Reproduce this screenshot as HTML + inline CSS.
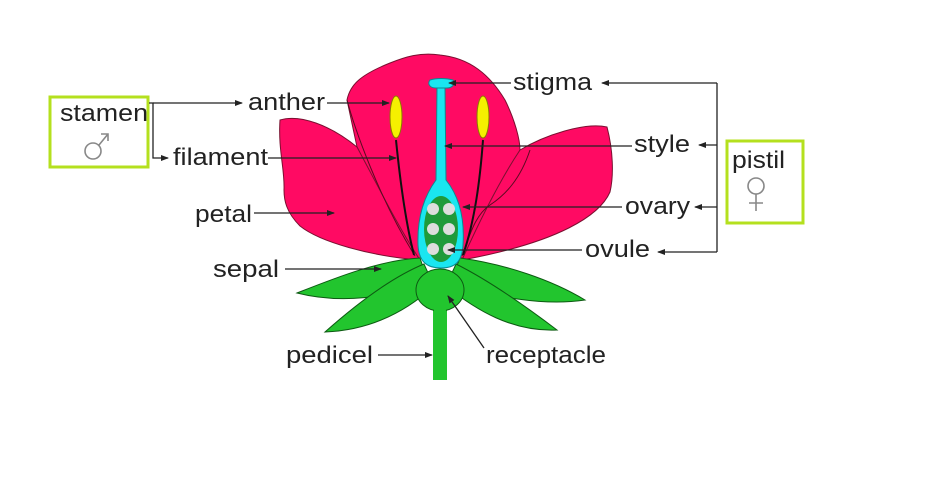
<!DOCTYPE html>
<html><head><meta charset="utf-8"><style>
body{margin:0;background:#fff;}
svg text{font-family:"Liberation Sans",Arial,sans-serif;fill:#222;}
</style></head><body>
<svg width="939" height="474" viewBox="0 0 939 474" xmlns="http://www.w3.org/2000/svg">
<defs>
<marker id="a" markerWidth="8" markerHeight="8" refX="7" refY="4" orient="auto" markerUnits="userSpaceOnUse"><path d="M0,1 L8,4 L0,7 Z" fill="#222"/></marker>
</defs>
<!-- petals -->
<path d="M347,100 C350,85 360,75 390,63 C405,57 420,52 440,55 C470,58 490,75 505,100 C515,120 520,140 520,150 L470,258 L412,258 L357,147 Z" fill="#ff0a63" stroke="#7a1030" stroke-width="1"/>
<path d="M280,120 C300,114 330,125 357,147 C380,190 400,230 420,260 C370,256 320,242 300,226 C286,212 284,200 284,190 C285,170 278,150 280,120 Z" fill="#ff0a63" stroke="#7a1030" stroke-width="1"/>
<path d="M607,127 C613,150 614,175 610,192 C600,215 560,242 462,260 C480,220 500,180 520,150 C545,135 585,122 607,127 Z" fill="#ff0a63" stroke="#7a1030" stroke-width="1"/>
<path d="M347,100 C355,130 380,200 415,256" fill="none" stroke="#5a0a20" stroke-width="1"/>
<path d="M530,150 C520,180 505,195 490,205 C475,215 470,235 462,256" fill="none" stroke="#5a0a20" stroke-width="1"/>
<!-- sepals -->
<path d="M420,258 C380,260 335,278 297,293 C340,304 390,298 428,282 Z" fill="#22c52e" stroke="#0d5a12" stroke-width="1"/>
<path d="M424,264 C390,278 352,308 325,332 C375,330 410,308 434,286 Z" fill="#22c52e" stroke="#0d5a12" stroke-width="1"/>
<path d="M460,258 C505,264 552,280 585,300 C545,306 495,298 450,282 Z" fill="#22c52e" stroke="#0d5a12" stroke-width="1"/>
<path d="M456,264 C488,280 528,308 557,330 C512,332 476,310 446,286 Z" fill="#22c52e" stroke="#0d5a12" stroke-width="1"/>
<!-- receptacle & pedicel -->
<rect x="433" y="295" width="14" height="85" fill="#22c52e"/>
<ellipse cx="440" cy="290" rx="24" ry="21" fill="#22c52e" stroke="#0d5a12" stroke-width="1"/>
<rect x="434" y="300" width="12" height="12" fill="#22c52e"/>
<!-- stamens -->
<path d="M396,140 C400,180 405,220 414,255" fill="none" stroke="#111" stroke-width="2"/>
<path d="M483,140 C480,180 475,220 463,255" fill="none" stroke="#111" stroke-width="2"/>
<ellipse cx="396" cy="117" rx="6" ry="21" fill="#f5f000" stroke="#8a7a00" stroke-width="1"/>
<ellipse cx="483" cy="117" rx="6" ry="21" fill="#f5f000" stroke="#8a7a00" stroke-width="1"/>
<!-- pistil -->
<path d="M437,88 L445,88 L446,180 C458,195 465,215 463,245 C462,262 455,268 441,268 C427,268 419,262 418,245 C417,215 425,195 436,180 Z" fill="#1ae6f0" stroke="#0a8a90" stroke-width="1"/>
<path d="M430,80 C436,78 446,78 453,80 C456,84 452,88 447,88 L436,88 C430,88 427,84 430,80 Z" fill="#1ae6f0" stroke="#0a8a90" stroke-width="1"/>
<ellipse cx="441" cy="229" rx="17" ry="33" fill="#1f9a3a"/>
<g fill="#ddd">
<circle cx="433" cy="209" r="6"/><circle cx="449" cy="209" r="6"/>
<circle cx="433" cy="229" r="6"/><circle cx="449" cy="229" r="6"/>
<circle cx="433" cy="249" r="6"/><circle cx="449" cy="249" r="6"/>
</g>
<!-- boxes -->
<rect x="50" y="97" width="98" height="70" fill="none" stroke="#b4e01e" stroke-width="3"/>
<rect x="727" y="141" width="76" height="82" fill="none" stroke="#b4e01e" stroke-width="3"/>
<text x="60" y="121" font-size="24" textLength="88" lengthAdjust="spacingAndGlyphs">stamen</text>
<text x="732" y="168" font-size="24" textLength="53" lengthAdjust="spacingAndGlyphs">pistil</text>
<g stroke="#888" stroke-width="1.6" fill="none">
<circle cx="93" cy="151" r="8"/><path d="M99,145 L108,134 M101,134 L108,134 L108,141"/>
<circle cx="756" cy="186" r="8"/><path d="M756,194 L756,211 M749,203 L763,203"/>
</g>
<!-- labels -->
<g font-size="24">
<text x="248" y="110" textLength="77" lengthAdjust="spacingAndGlyphs">anther</text>
<text x="173" y="165" textLength="95" lengthAdjust="spacingAndGlyphs">filament</text>
<text x="195" y="222" textLength="57" lengthAdjust="spacingAndGlyphs">petal</text>
<text x="213" y="277" textLength="66" lengthAdjust="spacingAndGlyphs">sepal</text>
<text x="286" y="363" textLength="87" lengthAdjust="spacingAndGlyphs">pedicel</text>
<text x="486" y="363" textLength="120" lengthAdjust="spacingAndGlyphs">receptacle</text>
<text x="513" y="90" textLength="79" lengthAdjust="spacingAndGlyphs">stigma</text>
<text x="634" y="152" textLength="56" lengthAdjust="spacingAndGlyphs">style</text>
<text x="625" y="214" textLength="65" lengthAdjust="spacingAndGlyphs">ovary</text>
<text x="585" y="257" textLength="65" lengthAdjust="spacingAndGlyphs">ovule</text>
</g>
<!-- connectors -->
<g stroke="#222" stroke-width="1.3" fill="none">
<path d="M149,103 L153,103 L153,158 L168,158" marker-end="url(#a)"/>
<path d="M153,103 L242,103" marker-end="url(#a)"/>
<path d="M327,103 L389,103" marker-end="url(#a)"/>
<path d="M268,158 L396,158" marker-end="url(#a)"/>
<path d="M254,213 L334,213" marker-end="url(#a)"/>
<path d="M285,269 L381,269" marker-end="url(#a)"/>
<path d="M378,355 L432,355" marker-end="url(#a)"/>
<path d="M484,348 L448,296" marker-end="url(#a)"/>
<path d="M511,83 L449,83" marker-end="url(#a)"/>
<path d="M632,146 L445,146" marker-end="url(#a)"/>
<path d="M622,207 L463,207" marker-end="url(#a)"/>
<path d="M582,250 L448,250" marker-end="url(#a)"/>
<path d="M717,83 L717,252"/>
<path d="M717,83 L602,83" marker-end="url(#a)"/>
<path d="M717,145 L699,145" marker-end="url(#a)"/>
<path d="M717,207 L695,207" marker-end="url(#a)"/>
<path d="M717,252 L658,252" marker-end="url(#a)"/>
</g>
</svg>
</body></html>
